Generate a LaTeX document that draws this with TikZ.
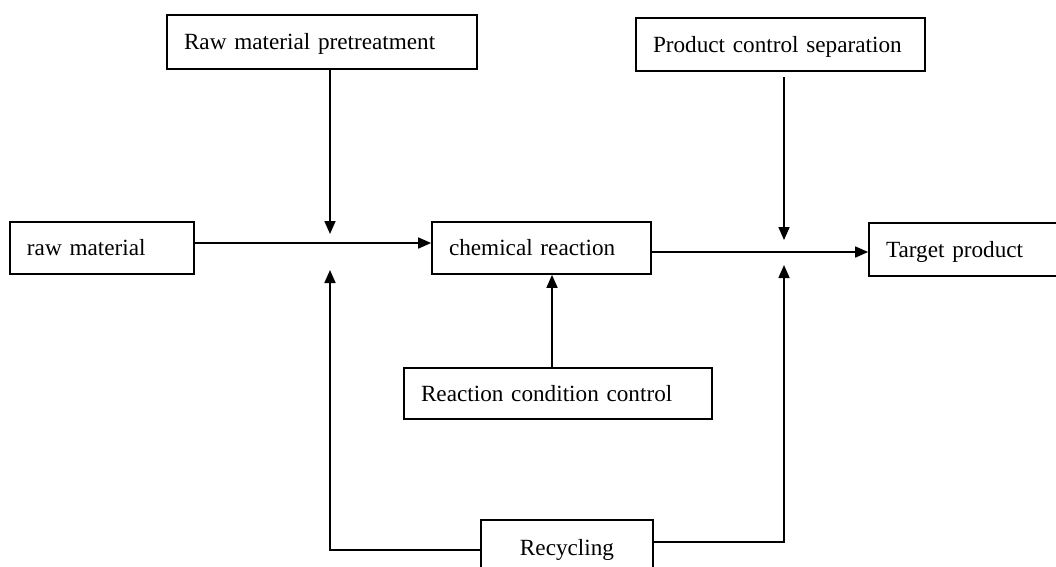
\documentclass[tikz,border=0pt]{standalone}
\usepackage{fontspec}
\setmainfont{Liberation Serif}
\usetikzlibrary{arrows.meta}

\tikzset{
  box/.style={draw, line width=1.7pt, align=left, inner xsep=17pt, inner ysep=0pt,
    text height=16pt, text depth=1pt,
    font=\fontsize{23.2pt}{28pt}\selectfont},
  arr/.style={line width=1.7pt, -{Triangle[length=13pt,width=11pt]}},
  link/.style={line width=1.7pt}
}

\begin{document}
\begin{tikzpicture}[x=1pt, y=-1pt]
\useasboundingbox (0,0) rectangle (1056,566);

% process boxes
\node[box, text width=276pt, minimum height=54pt] (pre) at (322,42) {Raw material pretreatment};
\node[box, text width=255pt, minimum height=53pt] (psep) at (780.5,44.5) {Product control separation};
\node[box, text width=150pt, minimum height=52pt] (raw) at (102,248) {raw material};
\node[box, text width=185pt, minimum height=52pt] (chem) at (541.5,248) {chemical reaction};
\node[box, text width=166pt, minimum height=53pt] (target) at (969,249.5) {Target product};
\node[box, text width=274pt, minimum height=51pt] (rcc) at (558,393.5) {Reaction condition control};
\node[box, align=center, text width=138pt, minimum height=55pt] (rec) at (567,547.5) {Recycling};

% junction points on the main line
\coordinate (j1) at (330,243);
\coordinate (j2) at (784,252);

% main line
\draw[arr] (raw.east |- j1) -- (chem.west |- j1);
\draw[arr] (chem.east |- j2) -- (target.west |- j2);

% side inputs
\draw[arr] (pre.south -| j1) -- ([yshift=9pt]j1);
\draw[arr] ([yshift=-5pt]psep.south -| j2) -- ([yshift=12pt]j2);
\draw[arr] ([xshift=-6pt]rcc.north) -- ([xshift=-6pt]rcc.north |- chem.south);

% recycling loops
\draw[arr] ([yshift=-2.5pt]rec.west) -| ([yshift=-27pt]j1);
\draw[arr] ([yshift=5.5pt]rec.east) -| ([yshift=-13pt]j2);
\end{tikzpicture}
\end{document}
